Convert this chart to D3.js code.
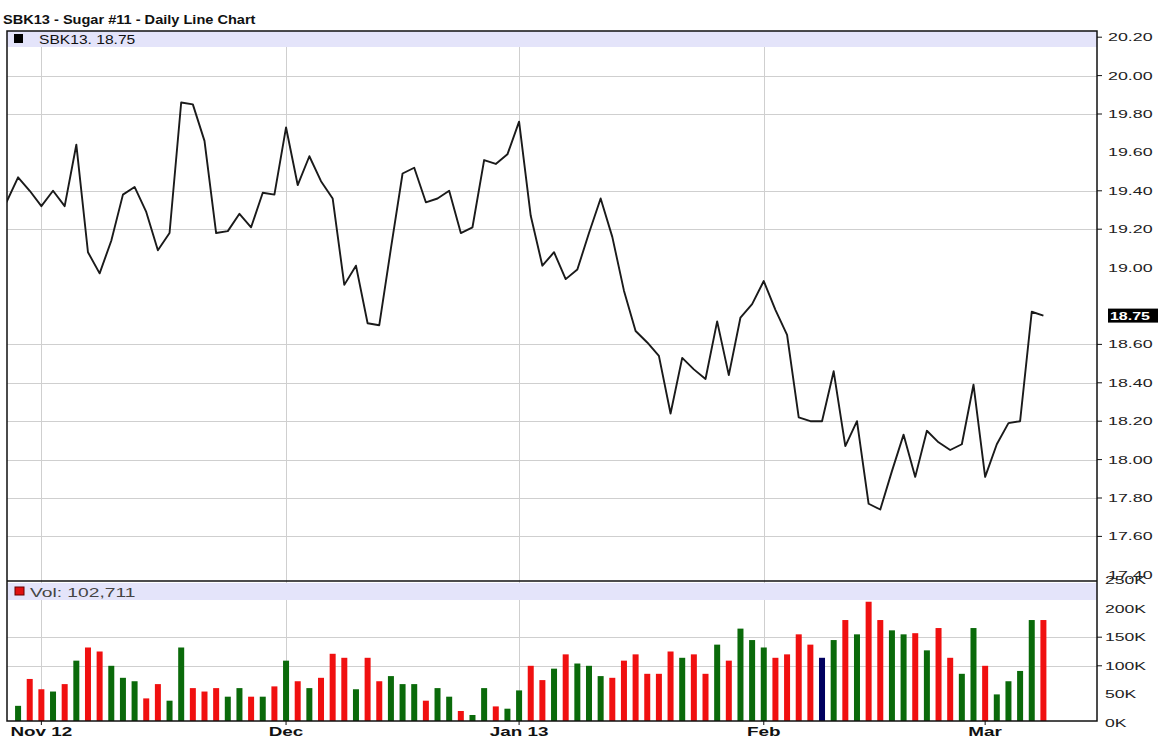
<!DOCTYPE html>
<html>
<head>
<meta charset="utf-8">
<script src="https://cdn.jsdelivr.net/npm/d3@7"></script>
<style>
  body { margin: 0; background: #fff; }
  svg { display: block; }
</style>
</head>
<body>
<div id="chart"></div>
<script>
const title = "SBK13 - Sugar #11 - Daily Line Chart";
const symbolLabel = "SBK13. 18.75";
const volumeLabel = "Vol: 102,711";
const lastPriceLabel = "18.75";

// daily closes, day 0 is the partly hidden day at the left edge
const closes = [
  19.34, 19.47, 19.40, 19.32, 19.40, 19.32, 19.64, 19.08, 18.97, 19.14,
  19.38, 19.42, 19.29, 19.09, 19.18, 19.86, 19.85, 19.66, 19.18, 19.19,
  19.28, 19.21, 19.39, 19.38, 19.73, 19.43, 19.58, 19.45, 19.36, 18.91,
  19.01, 18.71, 18.70, 19.10, 19.49, 19.52, 19.34, 19.36, 19.40, 19.18,
  19.21, 19.56, 19.54, 19.59, 19.76, 19.27, 19.01, 19.08, 18.94, 18.99,
  19.18, 19.36, 19.16, 18.88, 18.67, 18.61, 18.54, 18.24, 18.53, 18.47,
  18.42, 18.72, 18.44, 18.74, 18.81, 18.93, 18.78, 18.65, 18.22, 18.20,
  18.20, 18.46, 18.07, 18.20, 17.77, 17.74, 17.94, 18.13, 17.91, 18.15,
  18.09, 18.05, 18.08, 18.39, 17.91, 18.08, 18.19, 18.20, 18.77, 18.75
];

// daily volume in thousands (no bar shown for day 0)
const volumes = [
  null, 30, 77, 59, 55, 68, 109, 132, 125, 100,
  79, 73, 43, 68, 39, 132, 61, 55, 61, 46,
  61, 46, 46, 64, 109, 73, 61, 79, 121, 114,
  59, 114, 73, 82, 68, 68, 39, 61, 46, 21,
  14, 61, 29, 25, 57, 100, 75, 95, 120, 104,
  100, 82, 79, 109, 120, 86, 86, 125, 114, 120,
  86, 137, 109, 165, 145, 132, 114, 120, 155, 137,
  114, 145, 180, 155, 212, 180, 162, 155, 157, 127,
  166, 114, 86, 166, 100, 50, 73, 91, 180, 180
];

// first trading day of each month, as day index
const monthLabels = ["Nov 12", "Dec", "Jan 13", "Feb", "Mar"];
const monthDays = [3, 24, 44, 65, 84];
const monthGridDays = [3, 24, 44, 65];

const priceTicks = [20.2, 20.0, 19.8, 19.6, 19.4, 19.2, 19.0, 18.8, 18.6, 18.4, 18.2, 18.0, 17.8, 17.6, 17.4];
const priceTickLabels = ["20.20", "20.00", "19.80", "19.60", "19.40", "19.20", "19.00", "", "18.60", "18.40", "18.20", "18.00", "17.80", "17.60", "17.40"];
const priceGrid = [20.2, 20.0, 19.8, 19.4, 19.2, 18.6, 18.4, 18.2, 18.0, 17.8, 17.6];

const volTicks = [0, 50, 100, 150, 200, 250];
const volTickLabels = ["0K", "50K", "100K", "150K", "200K", "250K"];
const volGrid = [100, 150];

const W = 1160, H = 740;
const L = 7, R = 1097;
const P_TOP = 31, P_BOT = 581, V_BOT = 721;

const svg = d3.select("#chart").append("svg")
  .attr("width", W).attr("height", H)
  .style("font-family", "'Liberation Sans', Arial, sans-serif");

const x = d3.scaleLinear().domain([0.05, 93.6]).range([L, R]);
const y = d3.scaleLinear().domain([17.4, 20.2]).range([574.8, 37.2]);
const yv = d3.scaleLinear().domain([0, 250]).range([723, 580]);

// widen text the way the source image was stretched
function stretch(sel, k) {
  sel.each(function () {
    const len = this.getComputedTextLength();
    d3.select(this).attr("textLength", len * k).attr("lengthAdjust", "spacingAndGlyphs");
  });
}

svg.append("clipPath").attr("id", "pclip")
  .append("rect").attr("x", L).attr("y", P_TOP).attr("width", R - L).attr("height", P_BOT - P_TOP);
svg.append("clipPath").attr("id", "vclip")
  .append("rect").attr("x", L).attr("y", P_BOT).attr("width", R - L).attr("height", V_BOT - P_BOT);

// title
svg.append("text").attr("x", 3).attr("y", 24)
  .attr("font-size", 13).attr("font-weight", "bold").attr("fill", "#111")
  .text(title).call(stretch, 1.12);

// grid
const grid = svg.append("g").attr("stroke", "#cfcfcf").attr("stroke-width", 1);
grid.selectAll(".hp").data(priceGrid).join("line")
  .attr("x1", L).attr("x2", R)
  .attr("y1", d => Math.round(y(d)) + 0.5).attr("y2", d => Math.round(y(d)) + 0.5);
grid.selectAll(".hv").data(volGrid).join("line")
  .attr("x1", L).attr("x2", R)
  .attr("y1", d => Math.round(yv(d)) + 0.5).attr("y2", d => Math.round(yv(d)) + 0.5);
grid.selectAll(".vg").data(monthGridDays).join("line")
  .attr("y1", P_TOP).attr("y2", V_BOT)
  .attr("x1", d => Math.round(x(d)) + 0.5).attr("x2", d => Math.round(x(d)) + 0.5);

// legend bands
svg.append("rect").attr("x", L).attr("y", P_TOP).attr("width", R - L).attr("height", 16).attr("fill", "#e4e4fa");
svg.append("rect").attr("x", L).attr("y", P_BOT + 2).attr("width", R - L).attr("height", 17).attr("fill", "#e4e4fa");

svg.append("rect").attr("x", 14).attr("y", 34).attr("width", 9).attr("height", 9).attr("fill", "#000");
svg.append("text").attr("x", 39).attr("y", 44).attr("font-size", 12).attr("fill", "#111")
  .text(symbolLabel).call(stretch, 1.3);

svg.append("rect").attr("x", 15).attr("y", 587).attr("width", 9).attr("height", 8)
  .attr("fill", "#e01010").attr("stroke", "#600").attr("stroke-width", 1);
svg.append("text").attr("x", 30).attr("y", 597).attr("font-size", 12).attr("fill", "#444")
  .text(volumeLabel).call(stretch, 1.6);

// volume bars
const barColor = i => {
  const d = closes[i] - closes[i - 1];
  return Math.abs(d) < 1e-9 ? "#000060" : d > 0 ? "#0a6a0a" : "#f01010";
};
svg.append("g").attr("clip-path", "url(#vclip)")
  .selectAll("rect").data(volumes.map((v, i) => ({ v, i })).filter(d => d.v != null)).join("rect")
  .attr("x", d => x(d.i) - 3)
  .attr("width", 6)
  .attr("y", d => yv(d.v))
  .attr("height", d => V_BOT - yv(d.v))
  .attr("fill", d => barColor(d.i));

// price line
const line = d3.line().x((d, i) => x(i)).y(d => y(d));
svg.append("path").datum(closes)
  .attr("clip-path", "url(#pclip)")
  .attr("fill", "none").attr("stroke", "#1a1a1a").attr("stroke-width", 1.9)
  .attr("stroke-linejoin", "round")
  .attr("d", line);

// frame
const frame = svg.append("g").attr("stroke", "#111").attr("fill", "none");
frame.append("rect").attr("x", L).attr("y", P_TOP).attr("width", R - L).attr("height", V_BOT - P_TOP).attr("stroke-width", 1.5);
frame.append("line").attr("x1", L).attr("x2", R).attr("y1", P_BOT).attr("y2", P_BOT).attr("stroke-width", 1.5);

// right axes
const ax = svg.append("g").attr("font-size", 11).attr("fill", "#222");
ax.selectAll(".pt").data(priceTicks.filter(d => priceGrid.includes(d))).join("line")
  .attr("x1", R).attr("x2", R + 5)
  .attr("y1", d => y(d)).attr("y2", d => y(d)).attr("stroke", "#111");
ax.selectAll(".pl").data(priceTicks).join("text")
  .attr("x", 1108).attr("y", d => y(d) + 4)
  .text((d, i) => priceTickLabels[i])
  .call(stretch, 1.62);

ax.selectAll(".vt").data(volGrid).join("line")
  .attr("x1", R).attr("x2", R + 5)
  .attr("y1", d => yv(d)).attr("y2", d => yv(d)).attr("stroke", "#111");
ax.selectAll(".vl").data(volTicks).join("text")
  .attr("x", 1105).attr("y", d => yv(d) + 4)
  .text((d, i) => volTickLabels[i])
  .call(stretch, 1.6);

// last price marker
const last = closes[closes.length - 1];
svg.append("rect").attr("x", 1108).attr("y", y(last) - 7).attr("width", 50).attr("height", 14).attr("fill", "#000");
svg.append("text").attr("x", 1110).attr("y", y(last) + 4).attr("font-size", 11).attr("font-weight", "bold")
  .attr("fill", "#fff").text(lastPriceLabel).call(stretch, 1.45);

// month labels
svg.append("g").selectAll("line").data(monthDays).join("line")
  .attr("x1", d => x(d)).attr("x2", d => x(d))
  .attr("y1", V_BOT).attr("y2", V_BOT + 4).attr("stroke", "#111");
svg.append("g").selectAll("text").data(monthDays).join("text")
  .attr("x", d => x(d)).attr("y", 736)
  .attr("text-anchor", "middle")
  .attr("font-size", 13).attr("font-weight", "bold").attr("fill", "#111")
  .text((d, i) => monthLabels[i])
  .call(stretch, 1.45);
</script>
</body>
</html>
